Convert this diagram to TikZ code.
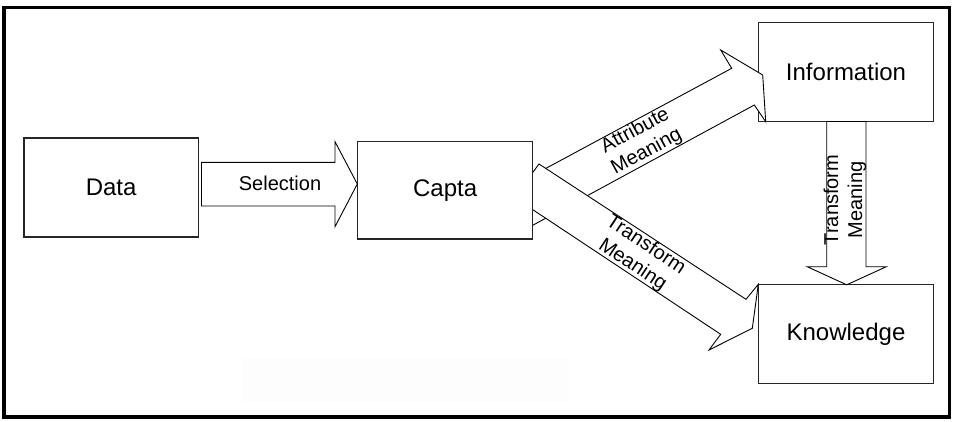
\documentclass[tikz,border=0pt]{standalone}
\usepackage{fontspec}
\setmainfont{Liberation Sans}
\definecolor{faint}{RGB}{253,253,253}
\newcommand\boxfont{\fontsize{24}{28}\selectfont}
\newcommand\arrowfont{\fontsize{20}{24}\selectfont}
\begin{document}
\begin{tikzpicture}[x=1pt,y=-1pt,
  box/.style={draw=black!85, line width=1.1pt, fill=white, inner sep=0pt,
              minimum width=175pt, minimum height=99pt, font=\boxfont},
  blockarrow/.style={draw=black, line width=0.9pt, fill=white, line join=miter},
  arrowlabel/.style={align=center, font=\arrowfont, inner sep=0pt}]
\useasboundingbox (0,0) rectangle (953,421);

% outer frame and the pale patch below Capta
\draw[line width=3.5pt] (4,7.5) rectangle (949.5,417);
\fill[faint] (243,358) rectangle (570,402);

% right-hand boxes (drawn first, the arrows overlap them)
\node[box] (info) at (846,72.1) {Information};
\node[box] (know) at (846,334.3) {Knowledge};

% Information -> Knowledge
\draw[blockarrow] (826.7,121.5) -- (826.7,266.7) -- (807.2,266.7) -- (846.7,284.8)
  -- (886.3,266.7) -- (866,266.7) -- (866,121.5) -- cycle;
\node[arrowlabel, rotate=90] (tm2) at (845,200) {Transform\\Meaning};

% Capta -> Information
\draw[blockarrow] (520,182.3) -- (731.7,68.3) -- (720.7,50) -- (762.7,75)
  -- (765.7,121.7) -- (754.3,105) -- (520,232.2) -- cycle;
\node[arrowlabel, rotate=28.4] (am) at (641,141.5) {Attribute\\Meaning};

% Capta -> Knowledge
\draw[blockarrow] (539,164) -- (746,299.3) -- (758.3,284.3) -- (752.3,328.3)
  -- (709,350) -- (720.7,334.3) -- (520,201.2) -- (520,189.7) -- cycle;
\node[arrowlabel, rotate=-33.4] (tm1) at (639,255) {Transform\\Meaning};

% left-hand boxes
\node[box, minimum width=175.2pt, minimum height=97.3pt] (capta) at (445.1,190.35) {Capta};
\node[box, minimum width=174.3pt, minimum height=99pt] (data) at (111.15,187.5) {Data};

% Data -> Capta
\draw[blockarrow] (201.5,162.3) -- (335,162.3) -- (335,141.7) -- (357.3,184)
  -- (335,226.7) -- (335,206) -- (201.5,206) -- cycle;
\node[arrowlabel] (sel) at (280,183.5) {Selection};
\end{tikzpicture}
\end{document}
